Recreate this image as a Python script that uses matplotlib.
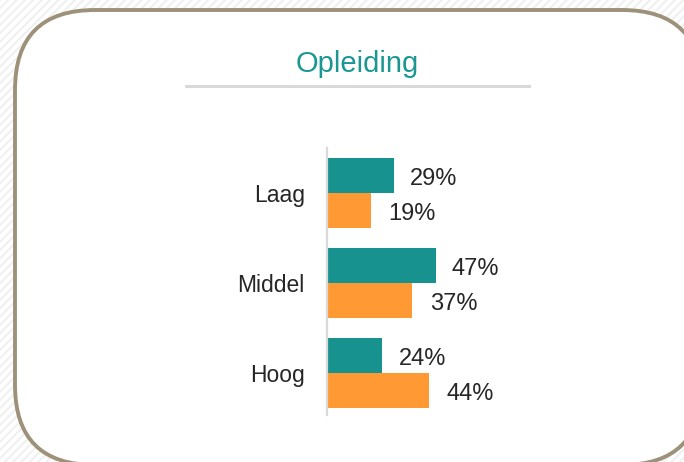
import matplotlib.pyplot as plt
from matplotlib.patches import FancyBboxPatch, Rectangle

plt.rcParams['font.family'] = ['Liberation Sans', 'DejaVu Sans']
plt.rcParams['hatch.linewidth'] = 1.5

categories = ['Laag', 'Middel', 'Hoog']
series_a = [29, 47, 24]
series_b = [19, 37, 44]
labels_a = ['29%', '47%', '24%']
labels_b = ['19%', '37%', '44%']

TEAL = '#17928f'
ORANGE = '#ff9933'

fig = plt.figure(figsize=(6.84, 4.62), dpi=100)

# background layer in pixel units
bg = fig.add_axes([0, 0, 1, 1], zorder=0)
bg.set_xlim(0, 684)
bg.set_ylim(462, 0)
bg.axis('off')
bg.add_patch(Rectangle((0, 0), 684, 462, facecolor='white', edgecolor='#f0f0f0',
                       hatch='////', lw=0))
bg.add_patch(FancyBboxPatch((15, 10), 687, 455,
                            boxstyle='round,pad=0,rounding_size=80',
                            facecolor='white', edgecolor='#9d917a', lw=2.8))
bg.text(357, 64, 'Opleiding', color='#1a9793', fontsize=21,
        ha='center', va='center')
bg.plot([186, 529], [86, 86], color='#d9d9d9', lw=2.2)

ax = fig.add_axes([327 / 684, 1 - 415 / 462, 231 / 684, 267 / 462], zorder=1)
ax.patch.set_alpha(0)
h = 0.39
y = list(range(len(categories)))
ya = [v - h / 2 for v in y]
yb = [v + h / 2 for v in y]
ax.barh(ya, series_a, height=h, color=TEAL)
ax.barh(yb, series_b, height=h, color=ORANGE)

for yy, v, t in zip(ya, series_a, labels_a):
    ax.annotate(t, (v, yy), xytext=(11.5, -2.5), textcoords='offset points',
                ha='left', va='center', fontsize=17, color='#262626')
for yy, v, t in zip(yb, series_b, labels_b):
    ax.annotate(t, (v, yy), xytext=(12.5, -2.5), textcoords='offset points',
                ha='left', va='center', fontsize=17, color='#262626')

ax.set_xlim(0, 100)
ax.set_ylim(2.47, -0.5)
ax.set_yticks(y)
ax.set_yticklabels(categories, fontsize=16.5, color='#262626')
ax.tick_params(axis='y', length=0, pad=16)
ax.set_xticks([])
for s in ['top', 'right', 'bottom']:
    ax.spines[s].set_visible(False)
ax.spines['left'].set_color('#d9d9d9')
ax.spines['left'].set_linewidth(1.6)

fig.savefig('out.png', dpi=100)
